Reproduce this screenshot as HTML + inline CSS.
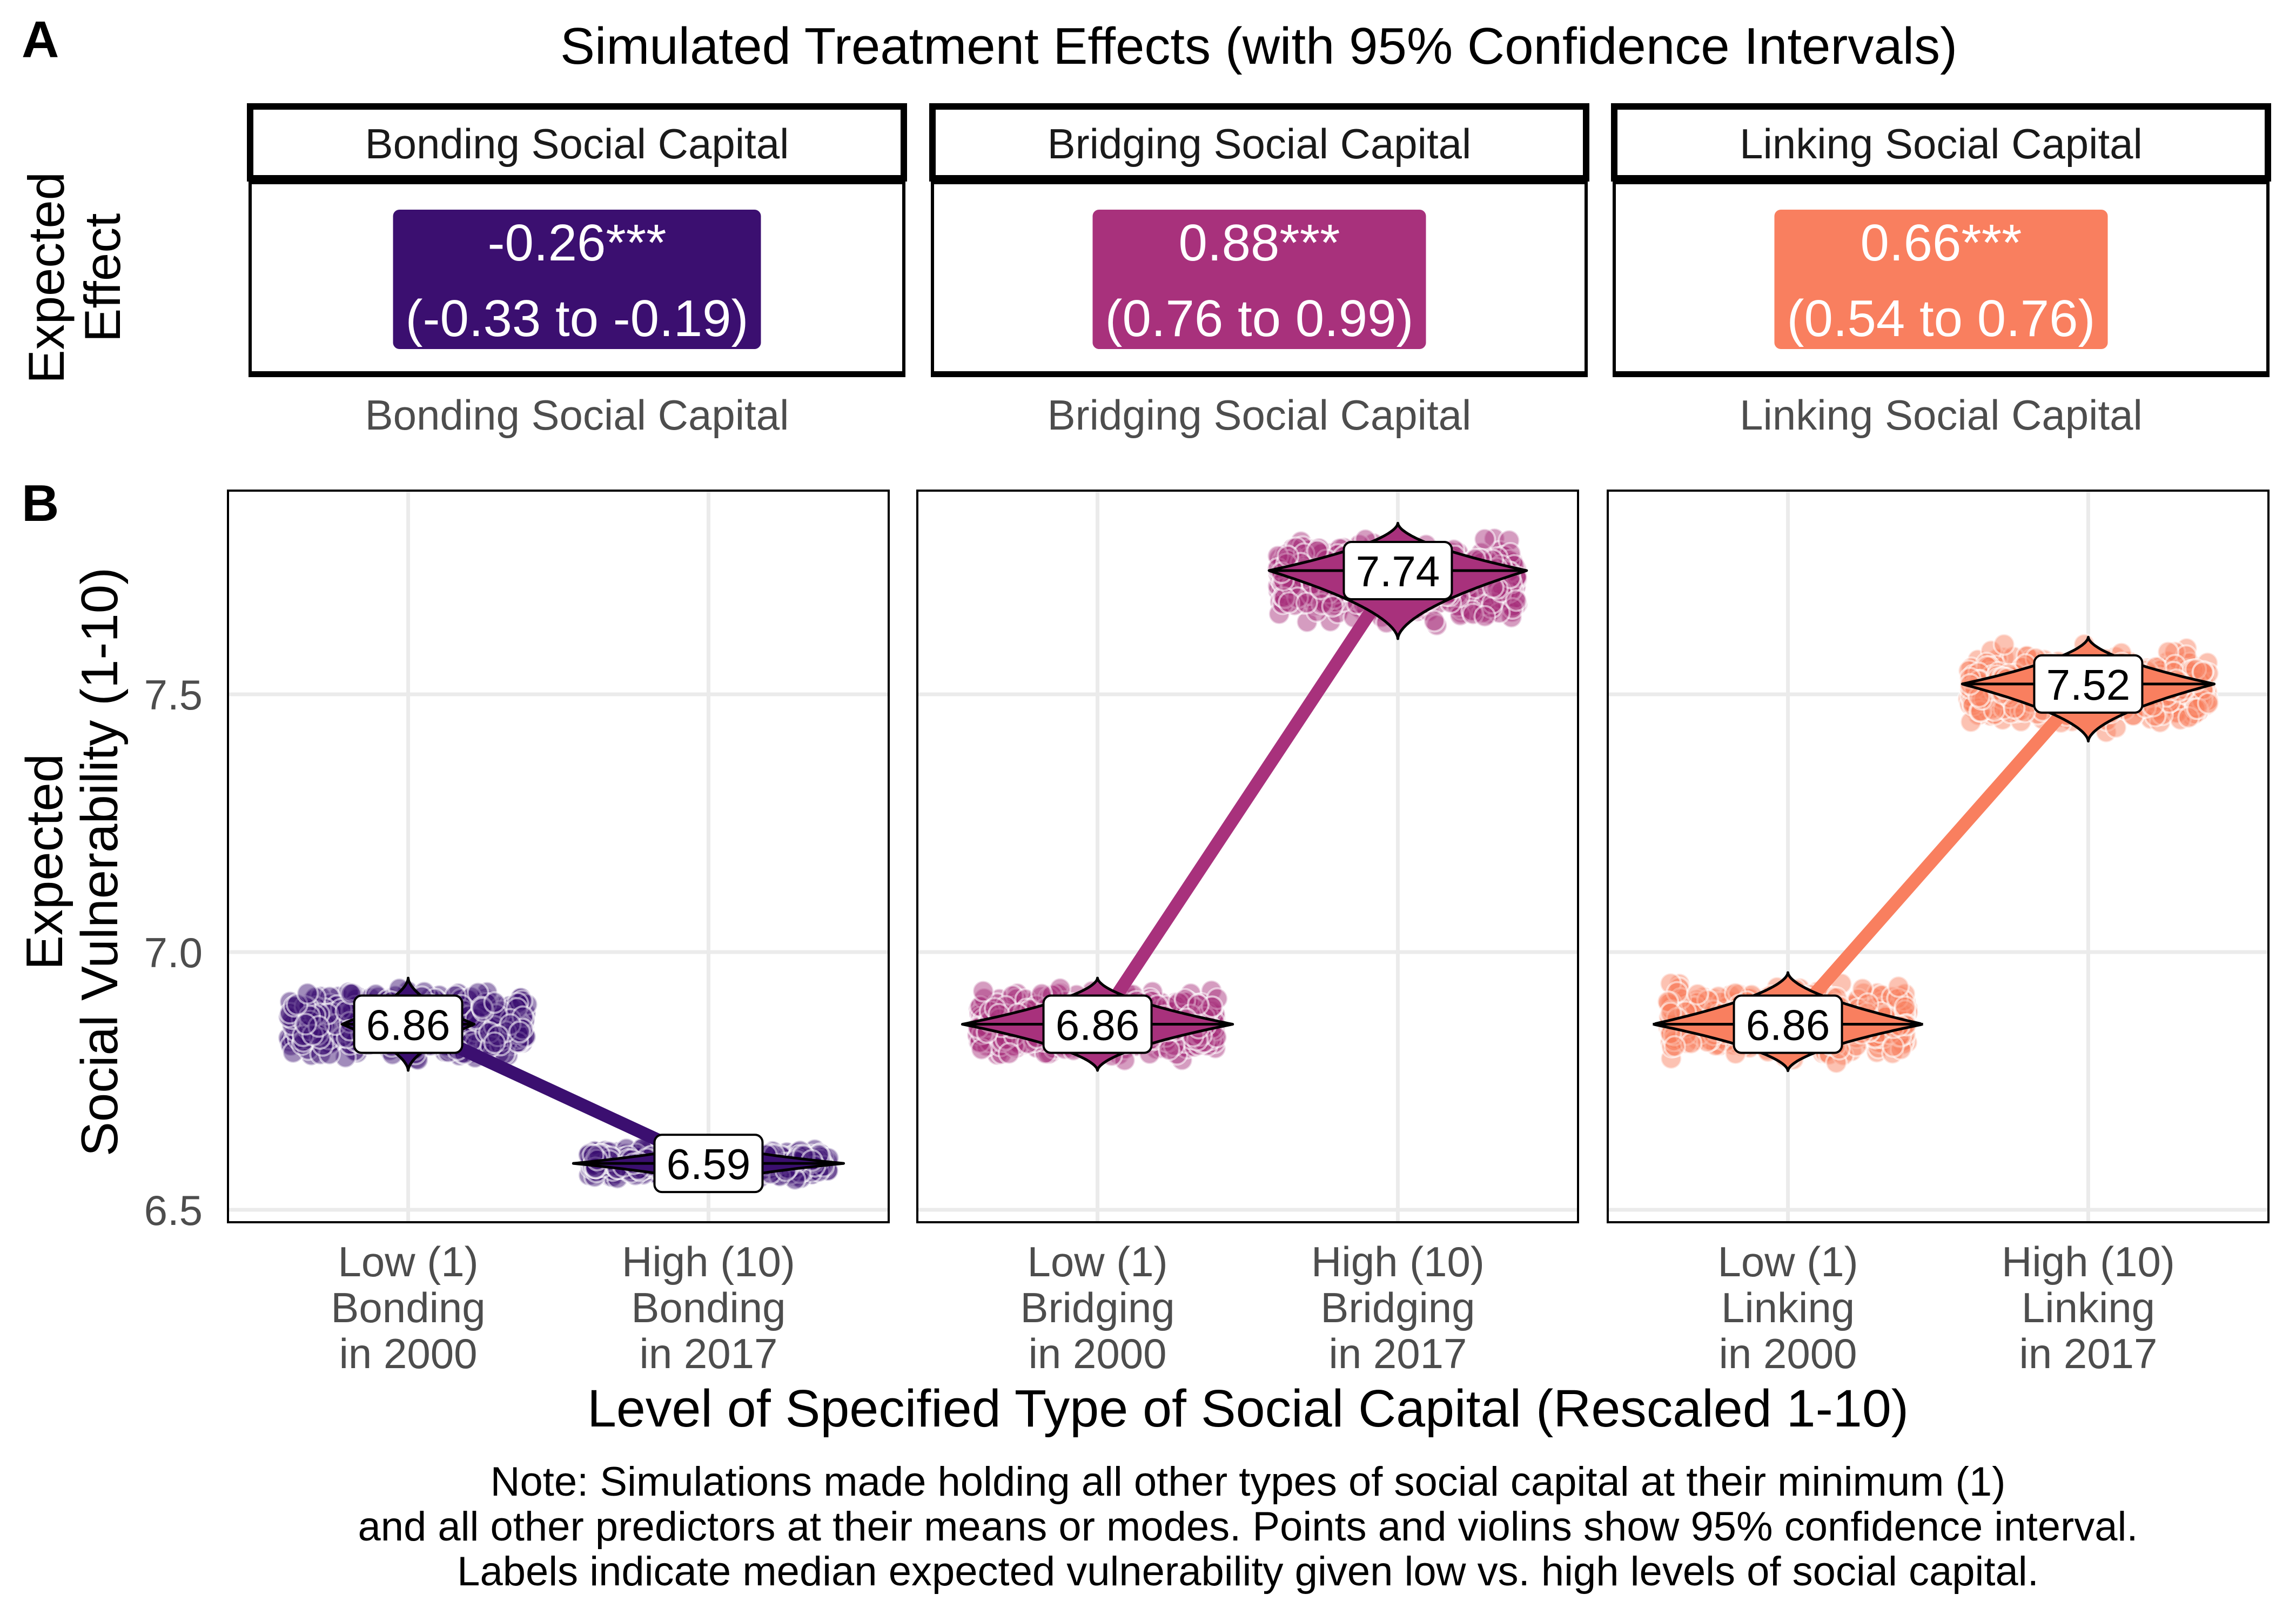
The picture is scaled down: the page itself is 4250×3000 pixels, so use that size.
<!DOCTYPE html>
<html><head><meta charset="utf-8"><style>
html,body{margin:0;padding:0;background:#fff;}
svg{display:block;font-family:"Liberation Sans",Arial,sans-serif;}
</style></head><body>
<svg id="chart" width="4250" height="3000" viewBox="0 0 4250 3000" xmlns="http://www.w3.org/2000/svg">
<rect width="4250" height="3000" fill="#fff"/>
<text x="40" y="106" font-size="96" font-weight="bold">A</text>
<text x="2330" y="118" font-size="96" text-anchor="middle">Simulated Treatment Effects (with 95% Confidence Intervals)</text>
<text transform="translate(118,514) rotate(-90)" font-size="94" text-anchor="middle">Expected</text>
<text transform="translate(222,514) rotate(-90)" font-size="94" text-anchor="middle">Effect</text>
<g id="panelA"></g>
<text x="40" y="964" font-size="96" font-weight="bold">B</text>
<text transform="translate(115,1595) rotate(-90)" font-size="96" text-anchor="middle">Expected</text>
<text transform="translate(217,1595) rotate(-90)" font-size="96" text-anchor="middle">Social Vulnerability (1-10)</text>
<g id="panelB"></g>
<text x="2310" y="2640" font-size="97" text-anchor="middle">Level of Specified Type of Social Capital (Rescaled 1-10)</text>
<text x="2310" y="2768" font-size="76" text-anchor="middle">Note: Simulations made holding all other types of social capital at their minimum (1)</text>
<text x="2310" y="2851" font-size="76" text-anchor="middle">and all other predictors at their means or modes. Points and violins show 95% confidence interval.</text>
<text x="2310" y="2934" font-size="76" text-anchor="middle">Labels indicate median expected vulnerability given low vs. high levels of social capital.</text>
</svg>
<script>
// ---- data ----
const capitalTypes = ["Bonding", "Bridging", "Linking"];
const effectValues = ["-0.26***", "0.88***", "0.66***"];
const effectIntervals = ["(-0.33 to -0.19)", "(0.76 to 0.99)", "(0.54 to 0.76)"];
const lowMedians = [6.86, 6.86, 6.86];
const highMedians = [6.59, 7.74, 7.52];
const lowCILower = [6.78, 6.78, 6.78];
const lowCIUpper = [6.94, 6.94, 6.95];
const highCILower = [6.55, 7.62, 7.42];
const highCIUpper = [6.63, 7.82, 7.60];
const violinWidthLow = [0.22, 0.45, 0.45];
const violinWidthHigh = [0.45, 0.43, 0.42];
const yTicks = [6.5, 7.0, 7.5];
const yTickLabels = ["6.5", "7.0", "7.5"];
const colors = ["#3B0F70", "#A8317C", "#F97F5F"];

const NS = "http://www.w3.org/2000/svg";
function mk(tag, attrs, parent) {
  const e = document.createElementNS(NS, tag);
  for (const k in attrs) e.setAttribute(k, attrs[k]);
  parent.appendChild(e);
  return e;
}

// ---- panel A ----
const gA = document.getElementById("panelA");
const aX = [463, 1726, 2988], aW = 1210;
for (let i = 0; i < 3; i++) {
  const x0 = aX[i], cx = x0 + aW / 2;
  const strip = mk("rect", {x: x0, y: 197, width: aW, height: 133, fill: "#fff", stroke: "#000", "stroke-width": 12}, gA);
  
  
  const st = mk("text", {x: cx, y: 293, "font-size": 78, "text-anchor": "middle", fill: "#1a1a1a"}, gA);
  st.textContent = capitalTypes[i] + " Social Capital";
  
  
  const pb = mk("rect", {x: x0, y: 338, width: aW, height: 352, fill: "#fff", stroke: "#000", "stroke-width": 6}, gA);
  
  
  mk("line", {x1: x0 - 3, x2: x0 + aW + 3, y1: 693, y2: 693, stroke: "#000", "stroke-width": 10}, gA);
  const box = mk("rect", {x: cx - 300, y: 388, width: 600, height: 258, rx: 12, fill: colors[i]}, gA);
  
  
  const t1 = mk("text", {x: cx, y: 482, "font-size": 96, "text-anchor": "middle", fill: "#fff"}, gA);
  t1.textContent = effectValues[i];
  
  
  const t2 = mk("text", {x: cx, y: 622, "font-size": 96, "text-anchor": "middle", fill: "#fff"}, gA);
  t2.textContent = effectIntervals[i];
  
  
  const w = Math.max(t1.getComputedTextLength(), t2.getComputedTextLength()) + 46;
  box.setAttribute("x", cx - w / 2);
  box.setAttribute("width", w);
  const bl = mk("text", {x: cx, y: 795, "font-size": 78, "text-anchor": "middle", fill: "#4D4D4D"}, gA);
  bl.textContent = capitalTypes[i] + " Social Capital";
  
  
}

// ---- panel B ----
const gB = document.getElementById("panelB");
const pX = [422, 1698, 2976], pW = 1223, pTop = 908, pBot = 2262;
function yS(v) { return 1762 - (v - 7.0) * 954; }
function xS(i, cat) { return pX[i] + pW * ((cat - 0.4) / 2.2); }
// deterministic jitter generator (visual texture only)
let seed = 12345;
function rnd() { seed = (seed * 1103515245 + 12345) % 2147483648; return seed / 2147483648; }

function drawGroup(g, i, cat, med, lo, hi, vw, name) {
  const cx = xS(i, cat);
  const pts = mk("g", {}, g);
  
  
  for (let k = 0; k < 650; k++) {
    const jx = (rnd() * 2 - 1) * 0.4;
    const u = (rnd() + rnd() + rnd()) / 3;
    const v = lo + (hi - lo) * u;
    mk("circle", {cx: xS(i, cat + jx), cy: yS(v), r: 19, fill: colors[i], "fill-opacity": 0.48, stroke: "#fff", "stroke-opacity": 0.55, "stroke-width": 4}, pts);
  }
  return cx;
}
function drawViolin(g, i, cat, med, lo, hi, vw, name) {
  const cx = xS(i, cat), half = vw * pW / 2.2;
  const vlo = lo - (hi - lo) * 0.06, vhi = hi + (hi - lo) * 0.06;
  const n = 100, left = [], right = [];
  for (let k = 0; k <= n; k++) {
    const v = vlo + (vhi - vlo) * k / n;
    const t = Math.min(1, Math.abs((v - med) / ((v > med ? vhi : vlo) - med)));
    let w = half * Math.pow(1 - t, 1.7);
    w = Math.max(w, 4 * (1 - t * t));
    right.push((cx + w).toFixed(1) + "," + yS(v).toFixed(1));
    left.unshift((cx - w).toFixed(1) + "," + yS(v).toFixed(1));
  }
  const vp = mk("polygon", {points: right.concat(left).join(" "), fill: colors[i], stroke: "#000", "stroke-width": 5, "stroke-linejoin": "round"}, g);
  
  
  mk("line", {x1: cx - half, x2: cx + half, y1: yS(med), y2: yS(med), stroke: "#000", "stroke-width": 5}, g);
}
function drawLabel(g, i, cat, med, name) {
  const cx = xS(i, cat), cy = yS(med);
  const r = mk("rect", {x: cx - 100, y: cy - 53, width: 200, height: 106, rx: 14, fill: "#fff", stroke: "#000", "stroke-width": 4}, g);
  
  
  const t = mk("text", {x: cx, y: cy + 29, "font-size": 80, "text-anchor": "middle", fill: "#000"}, g);
  t.textContent = med.toFixed(2);
  
  
}

for (let i = 0; i < 3; i++) {
  const nm = capitalTypes[i].toLowerCase();
  const g = mk("g", {}, gB);
  
  
  mk("rect", {x: pX[i], y: pTop, width: pW, height: pBot - pTop, fill: "#fff"}, g);
  for (let k = 0; k < yTicks.length; k++) {
    const gl = mk("line", {x1: pX[i], x2: pX[i] + pW, y1: yS(yTicks[k]), y2: yS(yTicks[k]), stroke: "#EBEBEB", "stroke-width": 7}, g);
    
    
  }
  [1, 2].forEach(c => {
    const gl = mk("line", {x1: xS(i, c), x2: xS(i, c), y1: pTop, y2: pBot, stroke: "#EBEBEB", "stroke-width": 7}, g);
    
    
  });
  drawGroup(g, i, 1, lowMedians[i], lowCILower[i], lowCIUpper[i], violinWidthLow[i], nm + '-low');
  drawGroup(g, i, 2, highMedians[i], highCILower[i], highCIUpper[i], violinWidthHigh[i], nm + '-high');
  const ln = mk("line", {x1: xS(i, 1), y1: yS(lowMedians[i]), x2: xS(i, 2), y2: yS(highMedians[i]), stroke: colors[i], "stroke-width": 24}, g);
  
  
  drawViolin(g, i, 1, lowMedians[i], lowCILower[i], lowCIUpper[i], violinWidthLow[i], nm + '-low');
  drawViolin(g, i, 2, highMedians[i], highCILower[i], highCIUpper[i], violinWidthHigh[i], nm + '-high');
  drawLabel(g, i, 1, lowMedians[i], nm + '-low');
  drawLabel(g, i, 2, highMedians[i], nm + '-high');
  const border = mk("rect", {x: pX[i], y: pTop, width: pW, height: pBot - pTop, fill: "none", stroke: "#000", "stroke-width": 4}, g);
  
  
  const lines = [["Low (1)", capitalTypes[i], "in 2000"], ["High (10)", capitalTypes[i], "in 2017"]];
  [1, 2].forEach((c, ci) => {
    const t = mk("text", {x: xS(i, c), y: 2362, "font-size": 78, "text-anchor": "middle", fill: "#4D4D4D"}, g);
    
    
    lines[ci].forEach((s, li) => {
      const ts = mk("tspan", {x: xS(i, c), dy: li === 0 ? 0 : 85}, t);
      ts.textContent = s;
    });
  });
}
for (let k = 0; k < yTicks.length; k++) {
  const t = mk("text", {x: 375, y: yS(yTicks[k]) + 28, "font-size": 78, "text-anchor": "end", fill: "#4D4D4D"}, gB);
  t.textContent = yTickLabels[k];
  
  
}
</script>
</body></html>
